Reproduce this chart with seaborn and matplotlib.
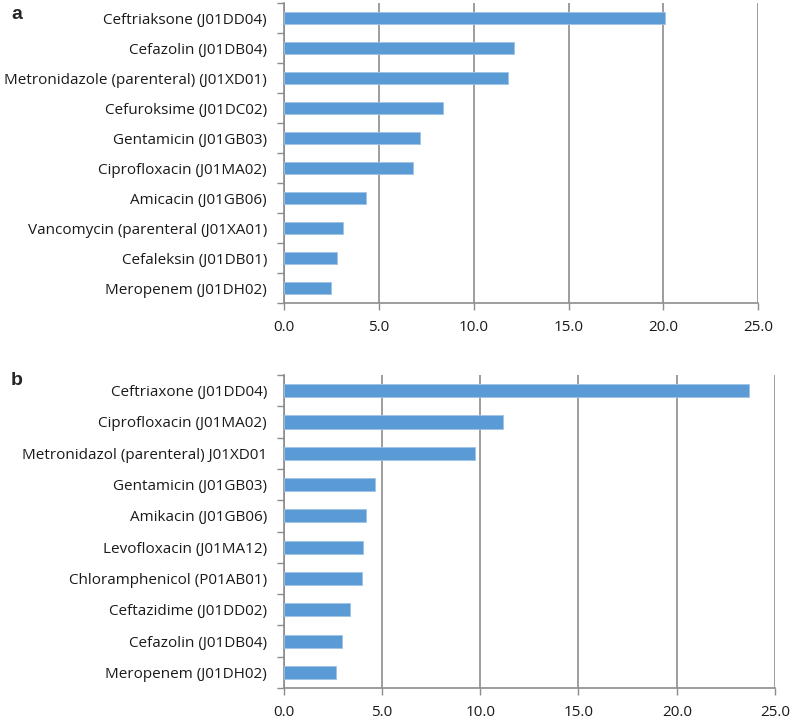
import matplotlib
matplotlib.use('Agg')
import matplotlib.pyplot as plt
import matplotlib.ticker as mticker
import seaborn as sns
import pandas as pd

sns.set_style('white')
plt.rcParams['font.family'] = ['Open Sans', 'DejaVu Sans']

# panel a
drugs_a = ['Ceftriaksone (J01DD04)', 'Cefazolin (J01DB04)', 'Metronidazole (parenteral) (J01XD01)',
           'Cefuroksime (J01DC02)', 'Gentamicin (J01GB03)', 'Ciprofloxacin (J01MA02)',
           'Amicacin (J01GB06)', 'Vancomycin (parenteral (J01XA01)', 'Cefaleksin (J01DB01)',
           'Meropenem (J01DH02)']
values_a = [20.1, 12.15, 11.8, 8.4, 7.2, 6.8, 4.35, 3.15, 2.8, 2.5]

# panel b
drugs_b = ['Ceftriaxone (J01DD04)', 'Ciprofloxacin (J01MA02)', 'Metronidazol (parenteral) J01XD01',
           'Gentamicin (J01GB03)', 'Amikacin (J01GB06)', 'Levofloxacin (J01MA12)',
           'Chloramphenicol (P01AB01)', 'Ceftazidime (J01DD02)', 'Cefazolin (J01DB04)',
           'Meropenem (J01DH02)']
values_b = [23.7, 11.15, 9.75, 4.65, 4.2, 4.05, 4.0, 3.35, 2.95, 2.65]

xticks = [0, 5, 10, 15, 20, 25]
bar_color = '#5B9BD5'
axis_grey = '#8C8C8C'

fig = plt.figure(figsize=(8, 7.2), dpi=100)
ax_a = fig.add_axes([0.3546, 0.579, 0.5934, 0.4167])
ax_b = fig.add_axes([0.3546, 0.0444, 0.6142, 0.4347])

for ax, drugs, vals in [(ax_a, drugs_a, values_a), (ax_b, drugs_b, values_b)]:
    df = pd.DataFrame({'drug': drugs, 'value': vals})
    sns.barplot(data=df, x='value', y='drug', orient='h', color=bar_color,
                width=0.42, saturation=1, edgecolor='#9DC3E6', linewidth=0.6, ax=ax, zorder=3)
    ax.set_xlim(0, 25)
    ax.set_ylim(len(drugs) - 0.5, -0.5)
    ax.set_xticks(xticks)
    ax.xaxis.set_major_formatter(mticker.FormatStrFormatter('%.1f'))
    ax.grid(axis='x', color=axis_grey, linewidth=1.2, zorder=0)
    ax.set_axisbelow(True)
    ax.set_xlabel('')
    ax.set_ylabel('')
    # category boundary ticks on the y axis
    ax.set_yticks([i - 0.5 for i in range(len(drugs) + 1)], minor=True)
    ax.tick_params(axis='y', which='major', length=0, pad=12, labelsize=11, labelcolor='#1a1a1a')
    ax.tick_params(axis='y', which='minor', length=5, width=1, color=axis_grey, direction='out', left=True)
    ax.tick_params(axis='x', which='major', length=5, width=1, color=axis_grey, direction='out',
                   bottom=True, labelsize=11, labelcolor='#1a1a1a', pad=7)
    for side in ['top', 'right']:
        ax.spines[side].set_visible(False)
    for side in ['left', 'bottom']:
        ax.spines[side].set_color(axis_grey)
        ax.spines[side].set_linewidth(1.2)

fig.text(0.014, 0.992, 'a', fontsize=14, fontweight='bold',
         family=['Liberation Sans', 'DejaVu Sans'], va='top', ha='left')
fig.text(0.014, 0.483, 'b', fontsize=14, fontweight='bold',
         family=['Liberation Sans', 'DejaVu Sans'], va='top', ha='left')

fig.savefig('out.png', dpi=100)
